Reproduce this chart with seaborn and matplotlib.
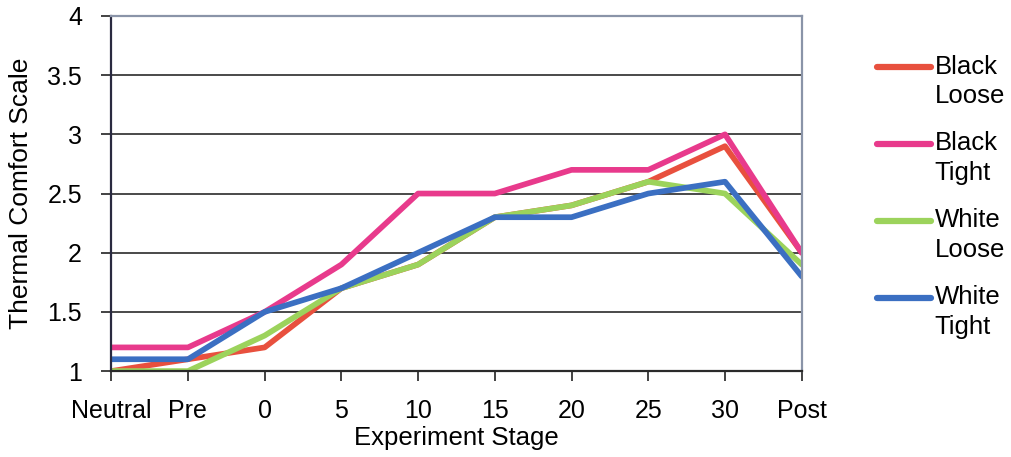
import numpy as np
import pandas as pd
import matplotlib
matplotlib.use("Agg")
import matplotlib.pyplot as plt
import seaborn as sns

stages = ["Neutral", "Pre", "0", "5", "10", "15", "20", "25", "30", "Post"]
black_loose = [1.0, 1.1, 1.2, 1.7, 1.9, 2.3, 2.4, 2.6, 2.9, 2.0]
black_tight = [1.2, 1.2, 1.5, 1.9, 2.5, 2.5, 2.7, 2.7, 3.0, 2.0]
white_loose = [1.0, 1.0, 1.3, 1.7, 1.9, 2.3, 2.4, 2.6, 2.5, 1.9]
white_tight = [1.1, 1.1, 1.5, 1.7, 2.0, 2.3, 2.3, 2.5, 2.6, 1.8]
series_names = ["Black\nLoose", "Black\nTight", "White\nLoose", "White\nTight"]
series_values = [black_loose, black_tight, white_loose, white_tight]
colors = ["#E8503E", "#E83A8C", "#9CD35C", "#3B6FC2"]
y_ticks = [1, 1.5, 2, 2.5, 3, 3.5, 4]
y_tick_labels = ["1", "1.5", "2", "2.5", "3", "3.5", "4"]

rows = []
for name, vals in zip(series_names, series_values):
    for st, v in zip(stages, vals):
        rows.append({"Stage": st, "Comfort": v, "Series": name})
df = pd.DataFrame(rows)

sns.set_theme(style="white")
plt.rcParams["font.family"] = ["Liberation Sans", "DejaVu Sans"]
plt.rcParams["text.color"] = "black"
plt.rcParams["axes.labelcolor"] = "black"

fig = plt.figure(figsize=(10.11, 4.57), dpi=100)
ax = fig.add_axes([0.110, 0.188, 0.683, 0.777])

sns.lineplot(data=df, x="Stage", y="Comfort", hue="Series", sort=False,
             palette=colors, linewidth=4.1, ax=ax, legend=True)

ax.set_xlim(0, len(stages) - 1)
ax.set_ylim(1, 4)
ax.set_xticks(range(len(stages)))
ax.set_xticklabels(stages)
ax.set_yticks(y_ticks)
ax.set_yticklabels(y_tick_labels)

for y in y_ticks[1:]:
    ax.axhline(y, color="#3a3a3a", linewidth=1.3, zorder=0.5)

ax.tick_params(axis="x", direction="out", length=7, width=1.2, color="#222222",
               labelsize=18, pad=13, bottom=True, labelcolor="black")
ax.tick_params(axis="y", direction="out", length=7, width=1.2, color="#222222",
               labelsize=18, pad=14, left=True, labelcolor="black")

ax.set_xlabel("Experiment Stage", fontsize=18.5, labelpad=2)
ax.set_ylabel("Thermal Comfort Scale", fontsize=19, labelpad=10)

for side in ("top", "right"):
    ax.spines[side].set_color("#8a94a8")
    ax.spines[side].set_linewidth(1.6)
ax.spines["left"].set_color("#2a2a40")
ax.spines["left"].set_linewidth(1.6)
ax.spines["bottom"].set_color("#2a2a2a")
ax.spines["bottom"].set_linewidth(1.6)

handles, labels = ax.get_legend_handles_labels()
leg = ax.legend(handles, labels, loc="upper left", bbox_to_anchor=(0.857, 0.903),
                bbox_transform=fig.transFigure, frameon=False, fontsize=18.5,
                handlelength=2.1, handletextpad=0.15, labelspacing=0.9,
                borderaxespad=0)
for txt in leg.get_texts():
    txt.set_linespacing(1.3)
for ln in leg.get_lines():
    ln.set_linewidth(4.5)
    ln.set_ydata(np.asarray(ln.get_ydata()) + 10.5)

fig.savefig("out.png", dpi=100, facecolor="white")
